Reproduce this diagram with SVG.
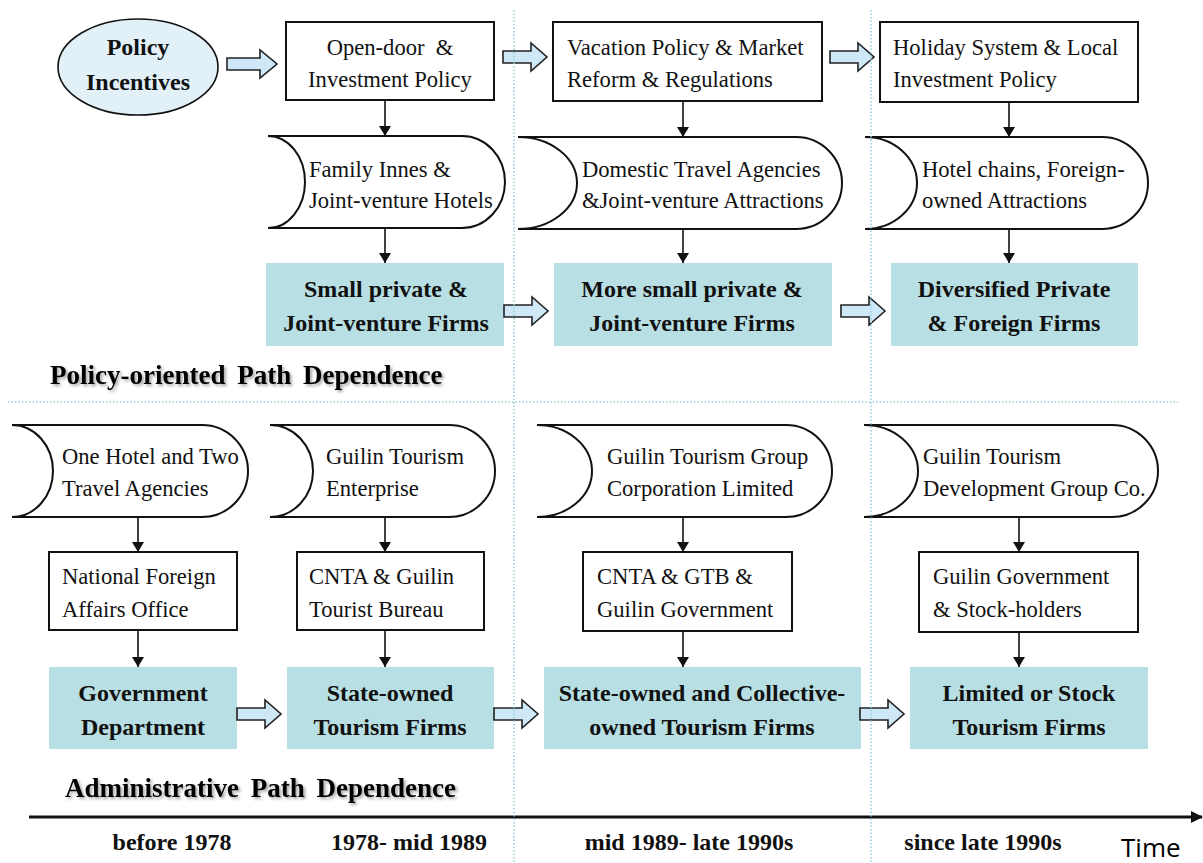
<svg xmlns="http://www.w3.org/2000/svg" width="1203" height="863" viewBox="0 0 1203 863">
<defs>
<style>
.t{font-family:"Liberation Serif","Times New Roman",serif;font-size:22.6px;fill:#111}
.b{font-family:"Liberation Serif","Times New Roman",serif;font-size:24px;font-weight:bold;fill:#111}
.h{font-family:"Liberation Serif","Times New Roman",serif;font-size:27px;font-weight:bold;fill:#000;word-spacing:5px}
.c{text-anchor:middle}
.box{fill:#fff;stroke:#111;stroke-width:2}
.sd{fill:#fff;stroke:#111;stroke-width:2}
.teal{fill:#b8dfe3}
.ba{fill:#cfe8f8;stroke:#222;stroke-width:1.6;stroke-linejoin:miter}
.ln{stroke:#111;stroke-width:1.6;fill:none}
.dot{stroke:#8fd0d8;stroke-width:1.5;stroke-dasharray:1.5 2;fill:none}
</style>
<marker id="ah" viewBox="0 0 10 12" refX="10" refY="6" markerWidth="10" markerHeight="12" markerUnits="userSpaceOnUse" orient="auto">
<path d="M0,0 L10,6 L0,12 Z" fill="#111"/>
</marker>
<marker id="tah" viewBox="0 0 12 12" refX="11" refY="6" markerWidth="12" markerHeight="12" markerUnits="userSpaceOnUse" orient="auto">
<path d="M0,0 L12,6 L0,12 Z" fill="#111"/>
</marker>
<path id="barrow" d="M0,-6 H28 V-14 L44,0 L28,14 V6 H0 Z"/>
<filter id="sh" x="-5%" y="-30%" width="110%" height="160%">
<feDropShadow dx="2" dy="2" stdDeviation="1.5" flood-color="#000" flood-opacity="0.35"/>
</filter>
</defs>
<rect width="1203" height="863" fill="#fff"/>

<g id="policy-incentives">
<ellipse cx="138" cy="67" rx="80" ry="48" fill="#e2f1f8" stroke="#111" stroke-width="1.6"/>
<text class="b c" x="138" y="55">Policy</text>
<text class="b c" x="138" y="90">Incentives</text>
</g>

<g id="open-door">
<rect class="box" x="286" y="22" width="208" height="78"/>
<text class="t c" x="390" y="55" xml:space="preserve">Open-door  &amp;</text>
<text class="t c" x="390" y="87">Investment Policy</text>
</g>
<g id="vacation-policy">
<rect class="box" x="553" y="22" width="269" height="79"/>
<text class="t" x="567" y="55">Vacation Policy &amp; Market</text>
<text class="t" x="567" y="87">Reform &amp; Regulations</text>
</g>
<g id="holiday-system">
<rect class="box" x="880" y="22" width="258" height="80"/>
<text class="t" x="893" y="55">Holiday System &amp; Local</text>
<text class="t" x="893" y="87">Investment Policy</text>
</g>

<g id="family-innes">
<path class="sd" d="M268,136 H462 A43,46 0 0 1 462,228 H268 A37,46 0 0 0 268,136 Z"/>
<text class="t" x="309" y="177">Family Innes &amp;</text>
<text class="t" x="309" y="208">Joint-venture Hotels</text>
</g>
<g id="domestic-travel">
<path class="sd" d="M518,137 H796 A46,46 0 0 1 796,229 H518 A59,46 0 0 0 518,137 Z"/>
<text class="t" x="582" y="177">Domestic Travel Agencies</text>
<text class="t" x="582" y="208">&amp;Joint-venture Attractions</text>
</g>
<g id="hotel-chains">
<path class="sd" d="M865,137 H1102 A46,46 0 0 1 1102,229 H865 A52,46 0 0 0 865,137 Z"/>
<text class="t" x="922" y="177">Hotel chains, Foreign-</text>
<text class="t" x="922" y="208">owned Attractions</text>
</g>

<g id="small-private">
<rect class="teal" x="266" y="263" width="238" height="83"/>
<text class="b c" x="386" y="297">Small private &amp;</text>
<text class="b c" x="386" y="331">Joint-venture Firms</text>
</g>
<g id="more-small-private">
<rect class="teal" x="554" y="263" width="278" height="83"/>
<text class="b c" x="692" y="297">More small private &amp;</text>
<text class="b c" x="692" y="331">Joint-venture Firms</text>
</g>
<g id="diversified">
<rect class="teal" x="891" y="263" width="247" height="83"/>
<text class="b c" x="1014" y="297">Diversified Private</text>
<text class="b c" x="1014" y="331">&amp; Foreign Firms</text>
</g>

<g id="one-hotel">
<path class="sd" d="M12,425 H202 A46,46 0 0 1 202,517 H12 A41,46 0 0 0 12,425 Z"/>
<text class="t" x="62" y="464">One Hotel and Two</text>
<text class="t" x="62" y="496">Travel Agencies</text>
</g>
<g id="guilin-tourism-enterprise">
<path class="sd" d="M270,425 H449 A46,46 0 0 1 449,517 H270 A43,46 0 0 0 270,425 Z"/>
<text class="t" x="326" y="464">Guilin Tourism</text>
<text class="t" x="326" y="496">Enterprise</text>
</g>
<g id="guilin-tourism-group">
<path class="sd" d="M537,425 H786 A46,46 0 0 1 786,517 H537 A55,46 0 0 0 537,425 Z"/>
<text class="t" x="607" y="464">Guilin Tourism Group</text>
<text class="t" x="607" y="496">Corporation Limited</text>
</g>
<g id="guilin-tourism-development">
<path class="sd" d="M864,425 H1112 A46,46 0 0 1 1112,517 H864 A54,46 0 0 0 864,425 Z"/>
<text class="t" x="923" y="464">Guilin Tourism</text>
<text class="t" x="923" y="496">Development Group Co.</text>
</g>

<g id="national-foreign-affairs">
<rect class="box" x="49" y="552" width="188" height="78"/>
<text class="t" x="62" y="584">National Foreign</text>
<text class="t" x="62" y="617">Affairs Office</text>
</g>
<g id="cnta-guilin">
<rect class="box" x="297" y="552" width="187" height="78"/>
<text class="t" x="309" y="584">CNTA &amp; Guilin</text>
<text class="t" x="309" y="617">Tourist Bureau</text>
</g>
<g id="cnta-gtb">
<rect class="box" x="583" y="552" width="209" height="79"/>
<text class="t" x="597" y="584">CNTA &amp; GTB &amp;</text>
<text class="t" x="597" y="617">Guilin Government</text>
</g>
<g id="guilin-government">
<rect class="box" x="919" y="552" width="219" height="80"/>
<text class="t" x="933" y="584">Guilin Government</text>
<text class="t" x="933" y="617">&amp; Stock-holders</text>
</g>

<g id="government-department">
<rect class="teal" x="49" y="667" width="188" height="82"/>
<text class="b c" x="143" y="701">Government</text>
<text class="b c" x="143" y="735">Department</text>
</g>
<g id="state-owned">
<rect class="teal" x="287" y="667" width="207" height="82"/>
<text class="b c" x="390" y="701">State-owned</text>
<text class="b c" x="390" y="735">Tourism Firms</text>
</g>
<g id="state-collective">
<rect class="teal" x="544" y="667" width="317" height="82"/>
<text class="b c" x="702" y="701">State-owned and Collective-</text>
<text class="b c" x="702" y="735">owned Tourism Firms</text>
</g>
<g id="limited-stock">
<rect class="teal" x="910" y="667" width="238" height="82"/>
<text class="b c" x="1029" y="701">Limited or Stock</text>
<text class="b c" x="1029" y="735">Tourism Firms</text>
</g>

<g id="connectors">
<path class="ba" d="M227,58 H260 V50 L277,64 L260,78 V70 H227 Z"/>
<use href="#barrow" class="ba" transform="translate(503,57)"/>
<use href="#barrow" class="ba" transform="translate(830,57)"/>
<use href="#barrow" class="ba" transform="translate(504,311)"/>
<use href="#barrow" class="ba" transform="translate(841,311)"/>
<use href="#barrow" class="ba" transform="translate(237,714)"/>
<use href="#barrow" class="ba" transform="translate(494,714)"/>
<use href="#barrow" class="ba" transform="translate(860,714)"/>
<line class="ln" x1="385" y1="100" x2="385" y2="136" marker-end="url(#ah)"/>
<line class="ln" x1="683" y1="101" x2="683" y2="137" marker-end="url(#ah)"/>
<line class="ln" x1="1009" y1="102" x2="1009" y2="137" marker-end="url(#ah)"/>
<line class="ln" x1="385" y1="228" x2="385" y2="263" marker-end="url(#ah)"/>
<line class="ln" x1="683" y1="229" x2="683" y2="263" marker-end="url(#ah)"/>
<line class="ln" x1="1009" y1="229" x2="1009" y2="263" marker-end="url(#ah)"/>
<line class="ln" x1="138" y1="517" x2="138" y2="552" marker-end="url(#ah)"/>
<line class="ln" x1="385" y1="517" x2="385" y2="552" marker-end="url(#ah)"/>
<line class="ln" x1="683" y1="517" x2="683" y2="552" marker-end="url(#ah)"/>
<line class="ln" x1="1019" y1="517" x2="1019" y2="552" marker-end="url(#ah)"/>
<line class="ln" x1="138" y1="630" x2="138" y2="667" marker-end="url(#ah)"/>
<line class="ln" x1="385" y1="630" x2="385" y2="667" marker-end="url(#ah)"/>
<line class="ln" x1="683" y1="631" x2="683" y2="667" marker-end="url(#ah)"/>
<line class="ln" x1="1019" y1="632" x2="1019" y2="667" marker-end="url(#ah)"/>
</g>

<g id="labels">
<text class="h" x="50" y="384" filter="url(#sh)">Policy-oriented Path Dependence</text>
<text class="h" x="65" y="797" filter="url(#sh)">Administrative Path Dependence</text>
</g>

<g id="timeline">
<line x1="29" y1="817" x2="1202" y2="817" stroke="#111" stroke-width="3" marker-end="url(#tah)"/>
<text class="b c" x="172" y="850">before 1978</text>
<text class="b c" x="409" y="850">1978- mid 1989</text>
<text class="b c" x="689" y="850">mid 1989- late 1990s</text>
<text class="b c" x="983" y="850">since late 1990s</text>
<text x="1121" y="857" style="font-family:'Open Sans','Liberation Sans',sans-serif;font-size:26px;fill:#000">Time</text>
</g>

<g id="dividers">
<line class="dot" x1="514" y1="10" x2="514" y2="863"/>
<line class="dot" x1="871" y1="10" x2="871" y2="863"/>
<line class="dot" x1="8" y1="402" x2="1178" y2="402"/>
</g>
</svg>
